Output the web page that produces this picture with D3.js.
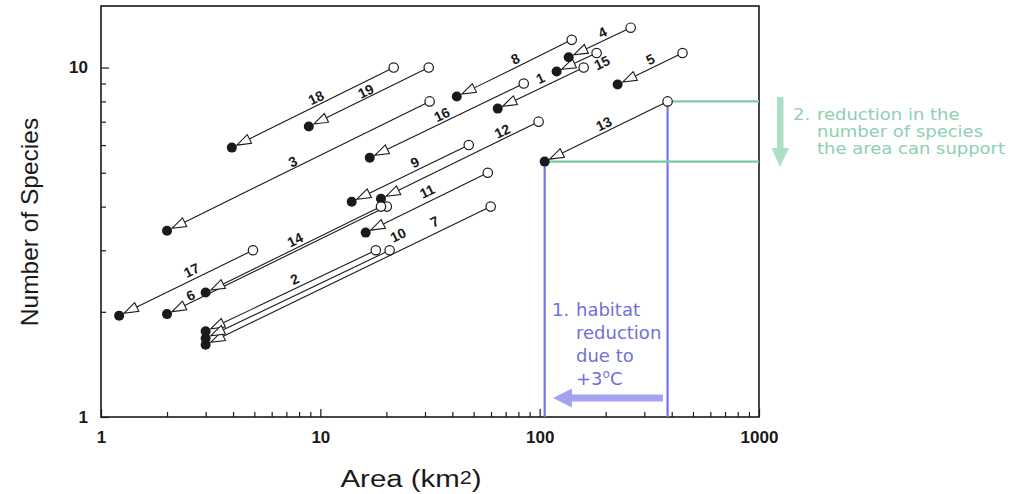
<!DOCTYPE html>
<html>
<head>
<meta charset="utf-8">
<script src="https://cdn.jsdelivr.net/npm/d3@7"></script>
<style>
  html, body { margin: 0; padding: 0; background: #fff; }
  svg { display: block; }
</style>
</head>
<body>
<svg id="chart" width="1022" height="494"></svg>
<script>
// Species–area pairs: each site before (open circle) and after (filled circle) habitat loss
const siteIds       = [1, 2, 3, 4, 5, 6, 7, 8, 9, 10, 11, 12, 13, 14, 15, 16, 17, 18, 19];
const areaBefore    = [158.7, 17.9, 31.5, 260, 448, 20.1, 59.8, 140, 47.5, 20.7, 58, 98.9, 383, 18.9, 181.8, 84.6, 4.93, 21.6, 31.2];
const speciesBefore = [10, 3, 8, 13, 11, 4, 4, 12, 6, 3, 5, 7, 8, 4, 11, 9, 3, 10, 10];
const areaAfter     = [64.4, 3, 2, 135.6, 226.7, 2, 3, 41.9, 13.9, 3, 16.1, 18.9, 105.4, 3, 119.5, 16.8, 1.21, 3.95, 8.86];
const speciesAfter  = [7.63, 1.76, 3.41, 10.7, 8.94, 1.97, 1.61, 8.26, 4.13, 1.68, 3.37, 4.21, 5.38, 2.27, 9.74, 5.52, 1.95, 5.9, 6.78];

// Where each number label sits: fraction along its arrow, and distance off the line
const labelAlong  = [0.54, 0.545, 0.49, 0.60, 0.56, 0.12, 0.82, 0.54, 0.57, 1.07, 0.54, 0.79, 0.51, 0.53, 1.02, 0.49, 0.57, 0.54, 0.50];
const labelOffset = [9, 9, 6.5, 8, 8.5, 6.5, 11, 8, 8, 10, 10, 7.5, 8, 8, -11, 7.5, 9, 7.5, 6.5];

const xMajor = [1, 10, 100, 1000];
const yMajor = [1, 10];
const highlightSite = 13;

const svg = d3.select("#chart");
const x = d3.scaleLog().domain([1, 1000]).range([101, 759]);
const y = d3.scaleLog().domain([1, 15]).range([417, 6]);

const xMinor = [];
[1, 10, 100].forEach(b => { for (let k = 2; k <= 9; k++) xMinor.push(b * k); });
const yMinor = [2, 3, 4, 5, 6, 7, 8, 9];

const ink = "#1a1a1a";
const tickFont = "'Liberation Sans', Arial, Helvetica, sans-serif";

// Axes (ticks point into the plot)
const gx = svg.append("g").attr("transform", "translate(0,417)");
gx.call(d3.axisBottom(x).tickValues(xMajor).tickSize(-8).tickPadding(14).tickFormat(d3.format("d")));
const gxm = svg.append("g").attr("transform", "translate(0,417)");
gxm.call(d3.axisBottom(x).tickValues(xMinor).tickSize(-5).tickFormat(""));
const gy = svg.append("g").attr("transform", "translate(101,0)");
gy.call(d3.axisLeft(y).tickValues(yMajor).tickSize(-8).tickPadding(13).tickFormat(d3.format("d")));
const gym = svg.append("g").attr("transform", "translate(101,0)");
gym.call(d3.axisLeft(y).tickValues(yMinor).tickSize(-5).tickFormat(""));

[gx, gxm, gy, gym].forEach(g => {
  g.select(".domain").remove();
  g.selectAll(".tick line").attr("stroke", ink).attr("stroke-width", 1.2);
  g.selectAll(".tick text").attr("fill", ink).style("font-family", tickFont)
    .style("font-size", "17px").style("font-weight", "bold");
});

// Plot frame
svg.append("rect")
  .attr("x", x(1)).attr("y", y(15))
  .attr("width", x(1000) - x(1)).attr("height", y(1) - y(15))
  .attr("fill", "none").attr("stroke", ink).attr("stroke-width", 1.6);

// Axis titles
const xTitle = svg.append("text")
  .attr("transform", "translate(411,487) scale(1.2,1)")
  .attr("text-anchor", "middle")
  .style("font-family", tickFont).style("font-size", "24.5px").attr("fill", ink);
xTitle.append("tspan").text("Area (km");
xTitle.append("tspan").attr("font-size", "18px").attr("dy", "-3").text("2");
xTitle.append("tspan").attr("dy", "3").text(")");

svg.append("text")
  .attr("transform", "translate(38,222) rotate(-90)")
  .attr("text-anchor", "middle")
  .style("font-family", tickFont).style("font-size", "24.5px").attr("fill", ink)
  .text("Number of Species");

// Highlight construction for site 13
const hi = siteIds.indexOf(highlightSite);
const blue = "#7474ea";
const green = "#7cc9a2";
[areaAfter[hi], areaBefore[hi]].forEach((a, k) => {
  const s = k === 0 ? speciesAfter[hi] : speciesBefore[hi];
  svg.append("line")
    .attr("x1", x(a)).attr("x2", x(a)).attr("y1", y(s)).attr("y2", y(1))
    .attr("stroke", blue).attr("stroke-width", 2.2);
});
[[areaBefore[hi], speciesBefore[hi]], [areaAfter[hi], speciesAfter[hi]]].forEach(([a, s]) => {
  svg.append("line")
    .attr("x1", x(a)).attr("x2", x(1000)).attr("y1", y(s)).attr("y2", y(s))
    .attr("stroke", green).attr("stroke-width", 2.2);
});

// Arrows from each site's original area to its reduced area
const data = siteIds.map((id, i) => ({
  id,
  x0: x(areaBefore[i]), y0: y(speciesBefore[i]),
  x1: x(areaAfter[i]),  y1: y(speciesAfter[i]),
  t: labelAlong[i], off: labelOffset[i]
}));

const rOpen = 4.7, rFilled = 5, headLen = 14, headHalf = 4.8;
const gArrows = svg.append("g");
data.forEach(d => {
  const dx = d.x0 - d.x1, dy = d.y0 - d.y1;
  const len = Math.hypot(dx, dy);
  const ux = dx / len, uy = dy / len;       // from filled toward open
  const nx = uy, ny = -ux;                  // normal pointing up-left
  const tipX = d.x1 + ux * (rFilled + 0.6), tipY = d.y1 + uy * (rFilled + 0.6);
  const bx = tipX + ux * headLen, by = tipY + uy * headLen;
  gArrows.append("line")
    .attr("x1", d.x0).attr("y1", d.y0).attr("x2", bx).attr("y2", by)
    .attr("stroke", ink).attr("stroke-width", 1.1);
  gArrows.append("path")
    .attr("d", `M${tipX},${tipY}L${bx + nx * headHalf},${by + ny * headHalf}L${bx - nx * headHalf},${by - ny * headHalf}Z`)
    .attr("fill", "#fff").attr("stroke", ink).attr("stroke-width", 1.1).attr("stroke-linejoin", "miter");
  d.lx = d.x1 + dx * d.t + nx * d.off;
  d.ly = d.y1 + dy * d.t + ny * d.off;
  d.angle = Math.atan2(dy, dx) * 180 / Math.PI;
});
data.forEach(d => {
  gArrows.append("circle").attr("cx", d.x0).attr("cy", d.y0).attr("r", rOpen)
    .attr("fill", "#fff").attr("stroke", ink).attr("stroke-width", 1.2);
  gArrows.append("circle").attr("cx", d.x1).attr("cy", d.y1).attr("r", rFilled)
    .attr("fill", ink);
});
data.forEach(d => {
  gArrows.append("text")
    .attr("transform", `translate(${d.lx},${d.ly}) rotate(${d.angle})`)
    .attr("text-anchor", "middle").attr("dominant-baseline", "central")
    .style("font-family", tickFont).style("font-size", "14px").style("font-weight", "bold")
    .attr("fill", ink).text(d.id);
});

// Annotation 1: habitat reduction (horizontal arrow toward smaller area)
const annFont = "'DejaVu Sans', Verdana, sans-serif";
const blueText = "#7070dc";
const blueArrow = "#a3a3f2";
svg.append("path")
  .attr("d", "M553,398 L572,388.5 L572,394.5 L663,394.5 L663,401.5 L572,401.5 L572,407.5 Z")
  .attr("fill", blueArrow);
const t1 = svg.append("text").style("font-family", annFont).style("font-size", "18px").attr("fill", blueText);
t1.append("tspan").attr("x", 552).attr("y", 316).text("1.");
t1.append("tspan").attr("x", 576).attr("y", 316).text("habitat");
t1.append("tspan").attr("x", 576).attr("y", 339).text("reduction");
t1.append("tspan").attr("x", 576).attr("y", 362).text("due to");
t1.append("tspan").attr("x", 576).attr("y", 385).text("+3");
t1.append("tspan").attr("dy", -7).attr("font-size", "12px").text("o");
t1.append("tspan").attr("dy", 7).text("C");

// Annotation 2: fewer species supported (downward arrow)
const greenText = "#8dd0b0";
const greenArrow = "#addfc8";
svg.append("path")
  .attr("d", "M780,167 L771.5,148 L777,148 L777,97 L783.5,97 L783.5,148 L789,148 Z")
  .attr("fill", greenArrow);
const t2 = svg.append("text")
  .attr("transform", "translate(793,0) scale(1.2,1)")
  .style("font-family", annFont).style("font-size", "15px").attr("fill", greenText);
t2.append("tspan").attr("x", 0).attr("y", 120).text("2.");
t2.append("tspan").attr("x", 20).attr("y", 120).text("reduction in the");
t2.append("tspan").attr("x", 20).attr("y", 137).text("number of species");
t2.append("tspan").attr("x", 20).attr("y", 154).text("the area can support");
</script>
</body>
</html>
